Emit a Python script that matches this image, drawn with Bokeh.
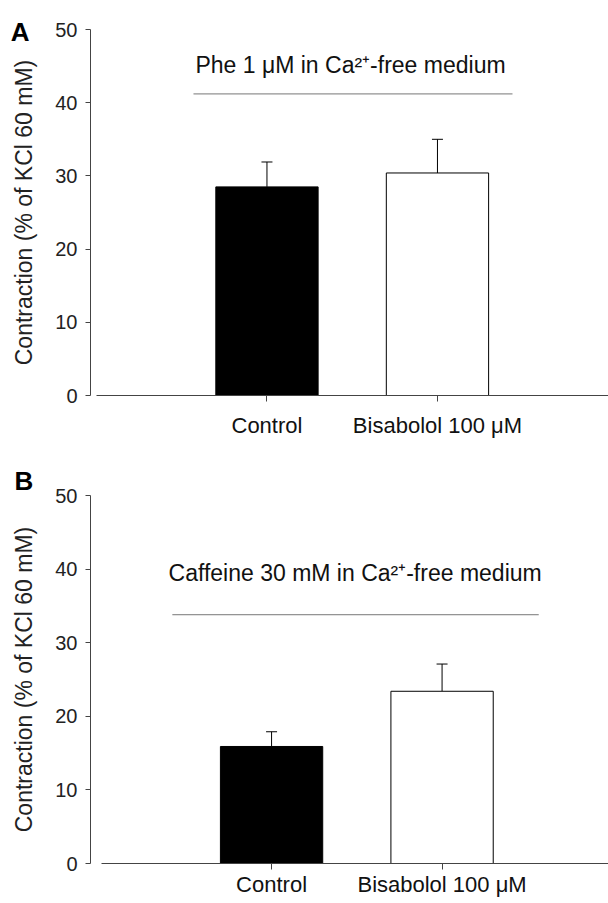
from bokeh.plotting import figure
from bokeh.models import (ColumnDataSource, Whisker, TeeHead, Label, FixedTicker, Range1d,
                          Title, LinearAxis)
from bokeh.layouts import column
from bokeh.embed import file_html
from bokeh.resources import INLINE

# ---- data ----
categories = ["Control", "Bisabolol 100 μM"]
positions = [1, 2]
phe_mean = [28.5, 30.4]
phe_sem = [3.4, 4.6]
caf_mean = [15.9, 23.4]
caf_sem = [2.0, 3.7]
bar_fill = ["black", "white"]
y_ticks = [0, 10, 20, 30, 40, 50]
panel_letters = ["A", "B"]
notes = ["Phe 1 μM in Ca²⁺-free medium", "Caffeine 30 mM in Ca²⁺-free medium"]
y_label = "Contraction (% of KCl 60 mM)"

FONT = "Liberation Sans"
FIG_W = 608
LEFT = 90
FRAME_W = FIG_W - LEFT
PX_PER_UNIT = 170.5


def panel(mean, sem, note, note_y, bracket_x, bracket_y, height, top, bottom,
          xstart, label_standoff):
    xend = xstart + FRAME_W / PX_PER_UNIT
    p = figure(width=FIG_W, height=height,
               x_range=Range1d(xstart, xend), y_range=Range1d(0, 50),
               output_backend="svg", toolbar_location=None,
               min_border_left=LEFT, min_border_right=0,
               min_border_top=top, min_border_bottom=bottom)
    p.outline_line_color = None
    p.xgrid.visible = False
    p.ygrid.visible = False
    p.background_fill_color = "white"

    src = ColumnDataSource(dict(
        x=positions, top=mean,
        upper=[m + s for m, s in zip(mean, sem)],
        fill=bar_fill))
    p.vbar(x="x", top="top", width=0.6, bottom=0, fill_color="fill",
           line_color="black", line_width=1, source=src)
    p.add_layout(Whisker(source=src, base="x", upper="upper", lower="top",
                         line_color="black", line_width=1,
                         upper_head=TeeHead(size=11, line_color="black", line_width=1),
                         lower_head=None))

    # bracket line and note
    p.segment(x0=[bracket_x[0]], y0=[bracket_y], x1=[bracket_x[1]], y1=[bracket_y],
              line_color="#777777", line_width=1)
    p.add_layout(Label(x=1.49, y=note_y, text=note, text_align="center",
                       text_baseline="middle", text_font=FONT,
                       text_font_size="23px", text_color="#111111"))

    # y axis
    ya = p.yaxis[0]
    ya.ticker = FixedTicker(ticks=y_ticks)
    ya.bounds = (0, 50)
    ya.minor_tick_line_color = None
    ya.major_tick_in = 0
    ya.major_tick_out = 5
    ya.major_label_standoff = 8
    ya.axis_line_color = "#444444"
    ya.major_tick_line_color = "#444444"
    ya.major_label_text_font = FONT
    ya.major_label_text_font_size = "20px"
    ya.major_label_text_color = "#222222"
    ya.axis_label = y_label
    ya.axis_label_text_font = FONT
    ya.axis_label_text_font_size = "23px"
    ya.axis_label_text_font_style = "normal"
    ya.axis_label_text_color = "#222222"
    ya.axis_label_standoff = 15

    # x axis
    xa = p.xaxis[0]
    xa.ticker = FixedTicker(ticks=positions)
    xa.major_label_overrides = {pos: c for pos, c in zip(positions, categories)}
    xa.bounds = (0, xend)
    xa.minor_tick_line_color = None
    xa.major_tick_in = 0
    xa.major_tick_out = 6
    xa.major_label_standoff = label_standoff
    xa.axis_line_color = "#444444"
    xa.major_tick_line_color = "#444444"
    xa.major_label_text_font = FONT
    xa.major_label_text_font_size = "22px"
    xa.major_label_text_color = "#111111"
    return p


xa_start = -0.035
xb_start = -0.062
pa = panel(phe_mean, phe_sem, notes[0], 45.1, (0.569, 2.44), 41.2,
           440, 29, 43, xa_start, 11)
pb = panel(caf_mean, caf_sem, notes[1], 39.5, (0.418, 2.567), 33.8,
           463, 55, 40, xb_start, 2)

# panel letter A: drawn as the only tick label of a bare outer left axis
letter_axis = LinearAxis(ticker=FixedTicker(ticks=[49.7]),
                         major_label_overrides={49.7: panel_letters[0]},
                         axis_line_color=None, major_tick_line_color=None,
                         minor_tick_line_color=None, major_tick_in=0, major_tick_out=0,
                         major_label_standoff=-21,
                         major_label_text_font=FONT, major_label_text_font_size="26px",
                         major_label_text_font_style="bold",
                         major_label_text_color="black")
pa.add_layout(letter_axis, "left")

# panel letter B: a left-aligned title above the frame
pb.add_layout(Title(text=panel_letters[1], align="left", offset=-76, standoff=0,
                    vertical_align="bottom", text_font=FONT, text_font_size="26px",
                    text_font_style="bold", text_color="black"), "above")

layout = column(pa, pb)
open("out.html", "w").write(file_html(layout, INLINE))
